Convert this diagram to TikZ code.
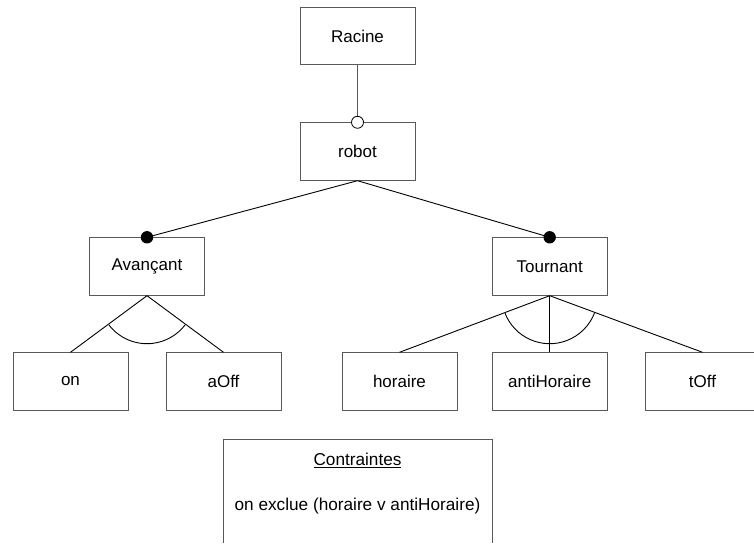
\documentclass[tikz,border=0pt]{standalone}
\usepackage{fontspec}
\setmainfont{Liberation Sans}
\begin{document}
\begin{tikzpicture}[x=1pt,y=1pt,
  feat/.style={draw=black!65, line width=0.9pt, minimum width=115pt, minimum height=57.5pt, inner sep=0pt, font=\fontsize{17}{20}\selectfont},
  conn/.style={draw=black, line width=0.9pt},
  txt/.style={font=\fontsize{17.2}{20}\selectfont, inner sep=0pt}]
\useasboundingbox (0,0) rectangle (754,543);
\fill[white] (0,0) rectangle (754,543);
% nodes
\node[feat] (racine) at (357.5,507) {Racine};
\node[feat] (robot) at (357.5,391.5) {robot};
\node[feat] (av) at (147,276.5) {Avançant};
\node[feat] (tou) at (549.7,276.5) {Tournant};
\node[feat] (on) at (70.5,161.5) {on};
\node[feat] (aoff) at (223.5,161.5) {aOff};
\node[feat] (hor) at (399.5,161.5) {horaire};
\node[feat] (anti) at (549.7,161.5) {antiHoraire};
\node[feat] (toff) at (702.5,161.5) {tOff};
% connectors
\draw[draw=black!65, line width=0.9pt] (racine.south) -- (robot.north);
\draw[conn] (robot.south) -- (av.north);
\draw[conn] (robot.south) -- (tou.north);
\draw[conn] (av.south) -- (on.north);
\draw[conn] (av.south) -- (aoff.north);
\draw[conn] (tou.south) -- (hor.north);
\draw[conn] (tou.south) -- (anti.north);
\draw[conn] (tou.south) -- (toff.north);
% markers
\draw[draw=black, fill=white, line width=0.8pt] (robot.north) circle[radius=6pt];
\fill[black] (av.north) circle[radius=6.2pt];
\fill[black] (tou.north) circle[radius=6.2pt];
% group arcs
\draw[conn] ([shift={(217.35:48pt)}]av.south) arc[start angle=217.35, end angle=322.65, radius=48pt];
\draw[conn] ([shift={(201.14:48pt)}]tou.south) arc[start angle=201.14, end angle=339.18, radius=48pt];
% constraints box
\coordinate (cbl) at (223.3,0);
\coordinate (ctl) at (223.3,104);
\coordinate (ctr) at (492,104);
\coordinate (cbr) at (492,0);
\draw[draw=black!65, line width=0.9pt] (cbl) -- (ctl) -- (ctr) -- (cbr);
\node[txt] (ctitle) at (357.5,83) {\underline{Contraintes}};
\node[txt] (cline) at (357.5,37) {on exclue (horaire v antiHoraire)};
\end{tikzpicture}
\end{document}
